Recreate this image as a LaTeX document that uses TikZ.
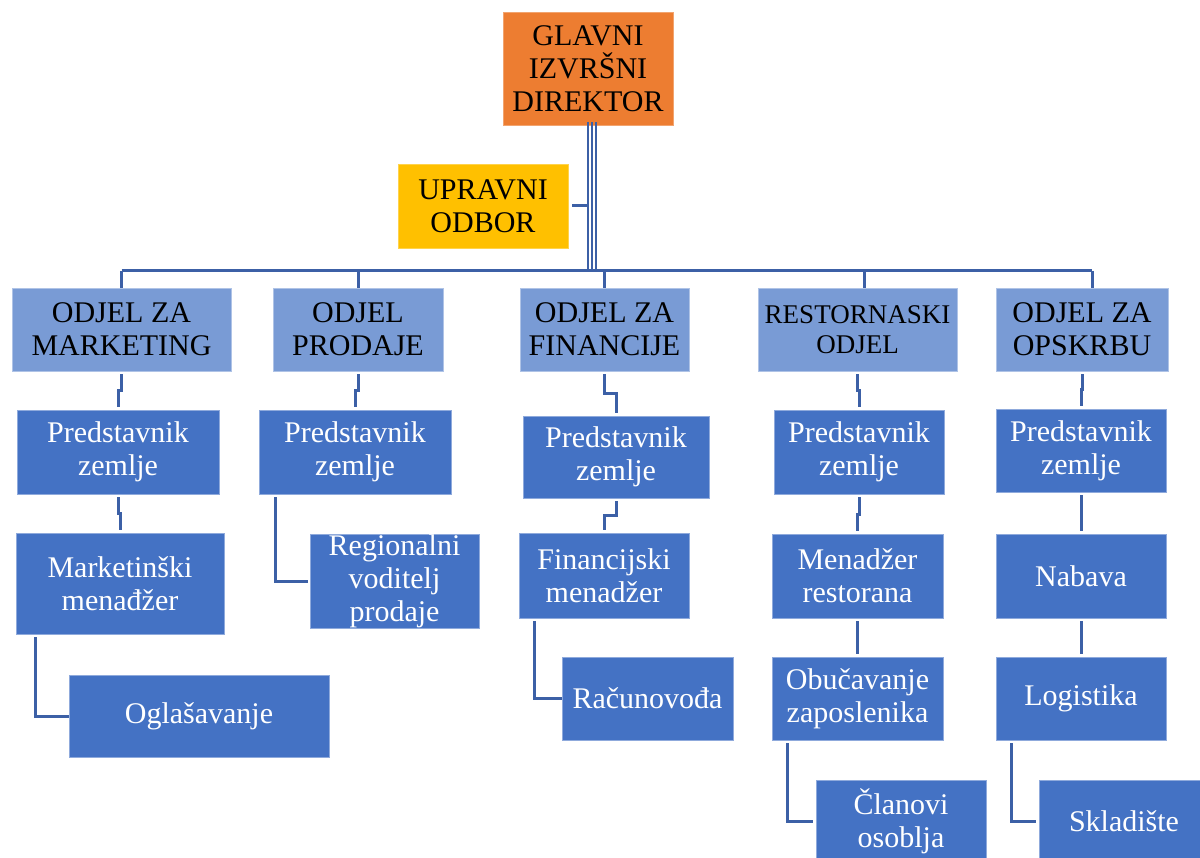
\documentclass[tikz,border=0pt]{standalone}
\usepackage{fontspec}
\setmainfont{Liberation Serif}
\usetikzlibrary{calc}
\definecolor{deptc}{RGB}{121,155,213}
\definecolor{subc}{RGB}{68,114,196}
\definecolor{ceoc}{RGB}{237,125,49}
\definecolor{boardc}{RGB}{255,192,0}
\definecolor{linec}{RGB}{60,96,166}
\begin{document}
\begin{tikzpicture}[x=1pt,y=-1pt,
  box/.style={rectangle, inner sep=0pt, align=center, font=\fontsize{30}{33}\selectfont},
  deptbox/.style={box, fill=deptc, draw=deptc!60!white, line width=0.8pt, text=black, minimum height=83pt},
  subbox/.style={box, fill=subc, draw=subc!60!white, line width=0.8pt, text=white},
  link/.style={draw=linec, line width=3pt},
  elbow/.style={link, shorten <=3pt, shorten >=3pt}
]
\clip (0,0) rectangle (1200,858);
\fill[white] (0,0) rectangle (1200,858);

% top
\node[box, fill=ceoc, draw=ceoc!70!white, line width=0.8pt, minimum width=170pt, minimum height=113pt] (ceo) at (588,68.5) {GLAVNI\\IZVRŠNI\\DIREKTOR};
\node[box, fill=boardc, draw=boardc!70!white, line width=0.8pt, minimum width=170pt, minimum height=84pt] (board) at (483,206) {UPRAVNI\\ODBOR};

% departments
\node[deptbox, minimum width=219pt] (mk) at (121.5,329.5) {ODJEL ZA\\MARKETING};
\node[deptbox, minimum width=170pt] (pr) at (358,329.5) {ODJEL\\PRODAJE};
\node[deptbox, minimum width=169pt] (fi) at (604.5,329.5) {ODJEL ZA\\FINANCIJE};
\node[deptbox, minimum width=199pt, font=\fontsize{27}{30}\selectfont] (rs) at (857.5,329.5) {RESTORNASKI\\ODJEL};
\node[deptbox, minimum width=172pt] (op) at (1082,329.5) {ODJEL ZA\\OPSKRBU};

% level 2
\node[subbox, minimum width=202pt, minimum height=84pt] (mk1) at (118,452) {Predstavnik\\zemlje};
\node[subbox, minimum width=192pt, minimum height=84pt] (pr1) at (355,452) {Predstavnik\\zemlje};
\node[subbox, minimum width=186pt, minimum height=82pt] (fi1) at (616,457) {Predstavnik\\zemlje};
\node[subbox, minimum width=170pt, minimum height=84pt] (rs1) at (859,452) {Predstavnik\\zemlje};
\node[subbox, minimum width=170pt, minimum height=83pt] (op1) at (1081,450.5) {Predstavnik\\zemlje};

% level 3
\node[subbox, minimum width=208pt, minimum height=101pt] (mk2) at (120,583.5) {Marketinški\\menađžer};
\node[subbox, minimum width=169pt, minimum height=94pt] (pr2) at (394.5,581) {Regionalni\\voditelj\\prodaje};
\node[subbox, minimum width=170pt, minimum height=85pt] (fi2) at (604,575.5) {Financijski\\menadžer};
\node[subbox, minimum width=171pt, minimum height=84pt] (rs2) at (857.5,576) {Menadžer\\restorana};
\node[subbox, minimum width=170pt, minimum height=84pt] (op2) at (1081,576) {Nabava};

% level 4
\node[subbox, minimum width=260pt, minimum height=82pt] (mk3) at (199,716) {Oglašavanje};
\node[subbox, minimum width=171pt, minimum height=83pt] (fi3) at (647.5,698.5) {Računovođa};
\node[subbox, minimum width=171pt, minimum height=83pt] (rs3) at (857.5,698.5) {Obučavanje\\zaposlenika};
\node[subbox, minimum width=170pt, minimum height=83pt] (op3) at (1081,698.5) {Logistika};

% level 5
\node[subbox, minimum width=170pt, minimum height=83pt] (rs4) at (901,821.5) {Članovi\\osoblja};
\node[subbox, minimum width=170pt, minimum height=83pt] (op4) at (1124,821.5) {Skladište};

% triple line from CEO to bus
\coordinate (bus) at (592,271);
\draw[linec, line width=2pt] ([yshift=3pt]ceo.south) -- (ceo.south |- bus);
\draw[linec, line width=2pt] ([xshift=4pt,yshift=3pt]ceo.south) -- ([xshift=4pt]ceo.south |- bus);
\draw[linec, line width=2pt] ([xshift=8pt,yshift=3pt]ceo.south) -- ([xshift=8pt]ceo.south |- bus);
% board connector
\draw[link, shorten <=4pt] (board.east) -- (board.east -| ceo.south);
% bus
\draw[link] (bus -| mk.north) -- ([xshift=10pt]bus -| op.north);
\draw[link] (bus -| mk.north) -- (mk.north);
\draw[link] (bus -| pr.north) -- (pr.north);
\draw[link] (bus -| fi.north) -- (fi.north);
\draw[link] ([xshift=6.5pt]bus -| rs.north) -- ([xshift=6.5pt]rs.north);
\draw[link] ([xshift=10pt]bus -| op.north) -- ([xshift=10pt]op.north);

% elbow connectors down the columns
\foreach \a/\b in {mk/mk1, mk1/mk2, pr/pr1, fi/fi1, fi1/fi2, rs/rs1, rs1/rs2, rs2/rs3, op/op1, op1/op2, op2/op3}{
  \draw[elbow] (\a.south) |- ($(\a.south)!.5!(\b.north)$) -| (\b.north);
}

% side connectors
\draw[link, shorten <=3pt] ([xshift=20pt]mk2.south west) |- (mk3.west);
\draw[link, shorten <=3pt, shorten >=2pt] ([xshift=17pt]pr1.south west) |- (pr2.west);
\draw[link, shorten <=3pt] ([xshift=16pt]fi2.south west) |- (fi3.west);
\draw[link, shorten <=3pt, shorten >=3pt] ([xshift=16pt]rs3.south west) |- (rs4.west);
\draw[link, shorten <=3pt, shorten >=3pt] ([xshift=16pt]op3.south west) |- (op4.west);
\end{tikzpicture}
\end{document}
